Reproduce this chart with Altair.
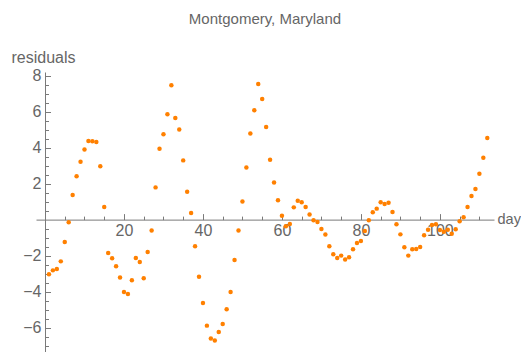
import altair as alt
import pandas as pd

days = list(range(1, 113))
residuals = [
    -3.04, -2.82, -2.74, -2.32, -1.24, -0.15, 1.37, 2.41, 3.22, 3.89,
    4.37, 4.35, 4.31, 2.96, 0.70, -1.85, -2.15, -2.59, -3.22, -4.02,
    -4.13, -3.37, -2.13, -2.35, -3.26, -1.80, -0.61, 1.79, 3.94, 4.74,
    5.85, 7.46, 5.65, 5.00, 3.29, 1.55, 0.37, -1.48, -3.17, -4.63,
    -5.89, -6.61, -6.71, -6.24, -5.80, -4.98, -4.02, -2.24, -0.61, 1.00,
    2.89, 4.78, 6.07, 7.53, 6.70, 5.15, 3.33, 2.06, 1.07, 0.22,
    -0.37, -0.24, 0.68, 1.05, 0.96, 0.70, 0.28, -0.04, -0.13, -0.52,
    -0.83, -1.48, -1.93, -2.13, -2.00, -2.22, -2.09, -1.65, -1.30, -1.19,
    -0.63, -0.04, 0.41, 0.61, 0.96, 0.87, 0.94, 0.42, -0.26, -0.82,
    -1.54, -2.00, -1.65, -1.63, -1.52, -0.87, -0.56, -0.30, -0.26, -0.58,
    -0.67, -0.56, -0.78, -0.54, -0.09, 0.13, 0.70, 1.31, 1.70, 2.55,
    3.44, 4.53,
]
x_label_values = [20, 40, 60, 80, 100]
x_tick_values = list(range(5, 115, 5))
y_label_values = [-6, -4, -2, 2, 4, 6, 8]
y_tick_values = [v / 2 for v in range(-14, 17) if v != 0]

df = pd.DataFrame({"day": days, "residual": residuals})

W, H = 458, 281
XDOM = [-2.28, 113.7]
YDOM = [-7.41, 8.2]
x0 = (0 - XDOM[0]) / (XDOM[1] - XDOM[0]) * W
y0 = (YDOM[1] - 0) / (YDOM[1] - YDOM[0]) * H

FONT = "Liberation Sans"
AX = "#7a7a7a"
LAB = "#666666"

xs = alt.Scale(domain=XDOM, nice=False, zero=False)
ys = alt.Scale(domain=YDOM, nice=False, zero=False)

labels_layer = alt.Chart(df).mark_circle(size=20, color="#FF8000", opacity=1).encode(
    x=alt.X("day:Q", scale=xs, axis=alt.Axis(
        orient="bottom", offset=y0 - H, values=x_label_values, ticks=False, domain=False,
        grid=False, labelPadding=3, labelFontSize=16, labelColor=LAB, labelFont=FONT,
        labelFlush=False, labelOverlap=False,
        title="day", titleFont=FONT, titleFontSize=14.5, titleColor=LAB, titleFontWeight="normal",
        titleAngle=0, titleX=461, titleY=0, titleAlign="left", titleBaseline="middle",
    )),
    y=alt.Y("residual:Q", scale=ys, axis=alt.Axis(
        orient="left", offset=-x0, values=y_label_values, ticks=False, domain=False,
        grid=False, labelPadding=4, labelFontSize=16, labelColor=LAB, labelFont=FONT,
        labelFlush=False, labelOverlap=False,
        title="residuals", titleFont=FONT, titleFontSize=16, titleColor=LAB, titleFontWeight="normal",
        titleAngle=0, titleX=-34, titleY=-10, titleAlign="left", titleBaseline="alphabetic",
    )),
)

ticks_layer = alt.Chart(df).mark_circle(size=20, opacity=0).encode(
    x=alt.X("day:Q", scale=xs, axis=alt.Axis(
        orient="top", offset=-y0, values=x_tick_values, labels=False, grid=False,
        domainColor=AX, tickColor=AX, domainWidth=1, tickWidth=1,
        tickSize={"condition": {"test": "datum.value % 20 === 0", "value": 6}, "value": 3.5},
        title=None,
    )),
    y=alt.Y("residual:Q", scale=ys, axis=alt.Axis(
        orient="right", offset=x0 - W, values=y_tick_values, labels=False, grid=False,
        domainColor=AX, tickColor=AX, domainWidth=1, tickWidth=1,
        tickSize={"condition": {"test": "datum.value % 2 === 0", "value": 5.5}, "value": 3.5},
        title=None,
    )),
)

chart = alt.layer(ticks_layer, labels_layer).resolve_axis(
    x="independent", y="independent"
).properties(
    width=W, height=H,
    autosize=alt.AutoSizeParams(type="none"),
    padding={"left": 28, "top": 64, "right": 27, "bottom": 0},
    title=alt.TitleParams("Montgomery, Maryland", font=FONT, fontSize=15, color=LAB,
                          fontWeight="normal", anchor="middle", offset=22),
).configure_view(stroke=None)

chart.save("out.html", embed_options={"renderer": "svg", "actions": False})
